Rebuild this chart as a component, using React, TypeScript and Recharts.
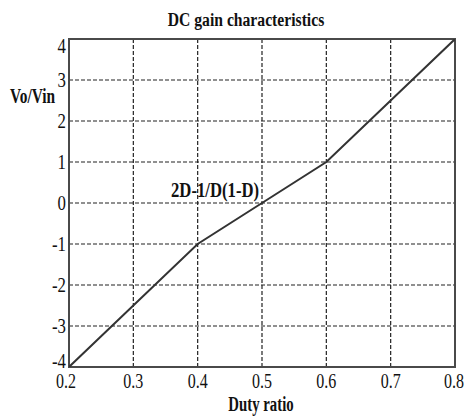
import React from "react";
import {
  LineChart,
  Line,
  XAxis,
  YAxis,
  CartesianGrid,
  ReferenceArea,
  ReferenceDot,
  Label,
} from "recharts";

// Duty ratio vs DC gain
const dutyRatio = [0.2, 0.4, 0.5, 0.6, 0.8];
const gain = [-4, -1, 0, 1, 4];

const xTicks = [0.2, 0.3, 0.4, 0.5, 0.6, 0.7, 0.8];
const yTicks = [-4, -3, -2, -1, 0, 1, 2, 3, 4];

const titleText = "DC gain characteristics";
const xLabelText = "Duty ratio";
const yLabelText = "Vo/Vin";
const curveLabel = "2D-1/D(1-D)";

const SERIF = "'Liberation Serif', 'Times New Roman', serif";

const data = dutyRatio.map((d, i) => ({ d, gain: gain[i] }));

const XTick = (props: any) => {
  const { x, y, payload } = props;
  const shift = payload.value === 0.2 ? -3 : 0;
  return (
    <g transform={`translate(${x + shift},${y + 21}) scale(0.8,1)`}>
      <text textAnchor="middle" fontSize={20} fill="#111" fontFamily={SERIF}>
        {payload.value.toFixed(1)}
      </text>
    </g>
  );
};

const YTick = (props: any) => {
  const { x, y, payload } = props;
  let dy = 7;
  if (payload.value === 4) dy = 14;
  if (payload.value === -4) dy = 1;
  return (
    <g transform={`translate(${x - 3},${y + dy}) scale(0.8,1)`}>
      <text textAnchor="end" fontSize={21} fill="#111" fontFamily={SERIF}>
        {payload.value}
      </text>
    </g>
  );
};

const App = () => {
  return (
    <div style={{ position: "absolute", left: 0, top: 0, background: "#fff" }}>
      <LineChart
        width={464}
        height={416}
        data={data}
        margin={{ top: 39, right: 9, left: 9, bottom: 19 }}
      >
        <CartesianGrid stroke="#222" strokeWidth={1.2} strokeDasharray="4 2" />
        <XAxis
          type="number"
          dataKey="d"
          domain={[0.2, 0.8]}
          ticks={xTicks}
          allowDataOverflow
          axisLine={false}
          tickLine={false}
          tickSize={0}
          tickMargin={0}
          height={30}
          tick={<XTick />}
        >
          <Label
            content={() => (
              <g transform="translate(261,411) scale(0.74,1)">
                <text textAnchor="middle" fontSize={20} fontWeight="bold" fill="#111" fontFamily={SERIF}>
                  {xLabelText}
                </text>
              </g>
            )}
          />
        </XAxis>
        <YAxis
          type="number"
          domain={[-4, 4]}
          ticks={yTicks}
          allowDataOverflow
          axisLine={false}
          tickLine={false}
          tickSize={0}
          tickMargin={0}
          width={60}
          tick={<YTick />}
        >
          <Label
            content={() => (
              <g transform="translate(10,103) scale(0.77,1)">
                <text textAnchor="start" fontSize={20} fontWeight="bold" fill="#111" fontFamily={SERIF}>
                  {yLabelText}
                </text>
              </g>
            )}
          />
        </YAxis>
        <ReferenceArea
          x1={0.2}
          x2={0.8}
          y1={-4}
          y2={4}
          fill="none"
          fillOpacity={0}
          stroke="#4a4a4a"
          strokeWidth={2}
          label={(p: any) => {
            const vb = p.viewBox || { x: 69, y: 39, width: 386 };
            return (
              <g transform={`translate(${vb.x + vb.width / 2 - 16},${vb.y - 13}) scale(0.87,1)`}>
                <text textAnchor="middle" fontSize={18} fontWeight="bold" fill="#111" fontFamily={SERIF}>
                  {titleText}
                </text>
              </g>
            );
          }}
        />
        <Line
          type="linear"
          dataKey="gain"
          stroke="#333"
          strokeWidth={2}
          dot={false}
          isAnimationActive={false}
        />
        <ReferenceDot
          x={0.427}
          y={0.15}
          r={0}
          fill="none"
          stroke="none"
          ifOverflow="visible"
          label={(p: any) => {
            const vb = p.viewBox || { x: 0, y: 0 };
            return (
              <g transform={`translate(${vb.x},${vb.y}) scale(0.76,1)`}>
                <text textAnchor="middle" fontSize={22} fontWeight="bold" fill="#111" fontFamily={SERIF}>
                  {curveLabel}
                </text>
              </g>
            );
          }}
        />
      </LineChart>
    </div>
  );
};

export default App;
